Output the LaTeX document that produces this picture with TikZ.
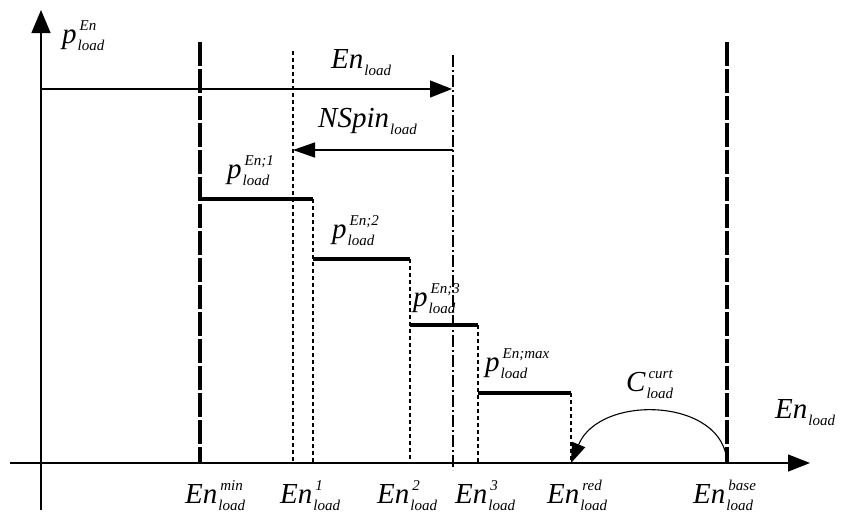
\documentclass[tikz,border=0pt]{standalone}
\usepackage{fontspec}
\setmainfont{Liberation Serif}
\usetikzlibrary{arrows.meta}
\newcommand\lab[3]{#1\kern1pt\raisebox{-7pt}{\fontsize{15}{20}\selectfont\begin{tabular}[b]{@{}l@{}}\kern2pt #2\\#3\end{tabular}}}
\begin{document}
\begin{tikzpicture}[x=1pt,y=-1pt,
  font=\fontsize{29}{30}\selectfont\itshape,
  lbl/.style={anchor=base west, inner sep=0pt},
  axis/.style={line width=1.4pt},
  thickdash/.style={line width=3.6pt, dash pattern=on 24pt off 3pt},
  thindash/.style={line width=1.1pt, dash pattern=on 4pt off 3pt},
  dashdot/.style={line width=1.3pt, dash pattern=on 12pt off 3pt on 2pt off 3pt},
  stepline/.style={line width=3.6pt}]
\useasboundingbox (0,0) rectangle (841,514);
% axes
\coordinate (ybot) at (41,510);
\coordinate (ytop) at (41,10);
\coordinate (xl) at (10,463);
\coordinate (xr) at (810,463);
\draw[axis,-{Triangle[length=23pt,width=19pt]}] (ybot) -- (ytop);
\draw[axis,-{Triangle[length=22pt,width=17pt]}] (xl) -- (xr);
% vertical markers
\coordinate (min-t) at (200,42);   \coordinate (min-b) at (200,463);
\coordinate (base-t) at (727,42);  \coordinate (base-b) at (727,463);
\coordinate (e1a-t) at (293,51);   \coordinate (e1a-b) at (293,463);
\coordinate (sp-t) at (453,55);    \coordinate (sp-b) at (453,470);
\coordinate (e1-t) at (313,199);   \coordinate (e1-b) at (313,463);
\coordinate (e2-t) at (410,259);   \coordinate (e2-b) at (410,463);
\coordinate (e3-t) at (478,325);   \coordinate (e3-b) at (478,463);
\coordinate (red-t) at (571,393);  \coordinate (red-b) at (571,463);
\draw[thickdash] (min-t) -- (min-b);
\draw[thickdash] (base-t) -- (base-b);
\draw[thindash] (e1a-t) -- (e1a-b);
\draw[dashdot] (sp-t) -- (sp-b);
\draw[thindash] (e1-t) -- (e1-b);
\draw[thindash] (e2-t) -- (e2-b);
\draw[thindash] (e3-t) -- (e3-b);
\draw[thindash] (red-t) -- (red-b);
% steps
\coordinate (s1a) at (200,199); \coordinate (s1b) at (313,199);
\coordinate (s2a) at (313,259); \coordinate (s2b) at (410,259);
\coordinate (s3a) at (410,325); \coordinate (s3b) at (478,325);
\coordinate (s4a) at (478,393); \coordinate (s4b) at (571,393);
\draw[stepline] (s1a) -- (s1b);
\draw[stepline] (s2a) -- (s2b);
\draw[stepline] (s3a) -- (s3b);
\draw[stepline] (s4a) -- (s4b);
% horizontal arrows
\coordinate (en-a) at (41,89);  \coordinate (en-b) at (452,89);
\coordinate (ns-a) at (453,150); \coordinate (ns-b) at (293,150);
\draw[line width=1.4pt,-{Triangle[length=22pt,width=17pt]}] (en-a) -- (en-b);
\draw[line width=1.4pt,-{Triangle[length=22pt,width=15pt]}] (ns-a) -- (ns-b);
% curtailment arc
\draw[line width=1.1pt,-{Triangle[length=20pt,width=14pt]}] (base-b) .. controls (725,398) and (600,393) .. (red-b);
% labels
\node[lbl] (lp) at (62,43) {\lab{p}{En}{load}};
\node[lbl] (len) at (331,68) {\lab{En}{}{load}};
\node[lbl] (lns) at (318,127) {\lab{NSpin}{}{load}};
\node[lbl] (lp1) at (227,178) {\lab{p}{En;1}{load}};
\node[lbl] (lp2) at (332,238) {\lab{p}{En;2}{load}};
\node[lbl] (lp3) at (413,306) {\lab{p}{En;3}{load}};
\node[lbl] (lp4) at (485,371) {\lab{p}{En;max}{load}};
\node[lbl] (lc) at (626,391) {\lab{C}{curt}{load}};
\node[lbl] (lx) at (775,418) {\lab{En}{}{load}};
\node[lbl] (lmin) at (185,503) {\lab{En}{min}{load}};
\node[lbl] (l1) at (280,503) {\lab{En}{1}{load}};
\node[lbl] (l2) at (377,503) {\lab{En}{2}{load}};
\node[lbl] (l3) at (455,503) {\lab{En}{3}{load}};
\node[lbl] (lred) at (547,503) {\lab{En}{red}{load}};
\node[lbl] (lbase) at (693,503) {\lab{En}{base}{load}};
\end{tikzpicture}
\end{document}
